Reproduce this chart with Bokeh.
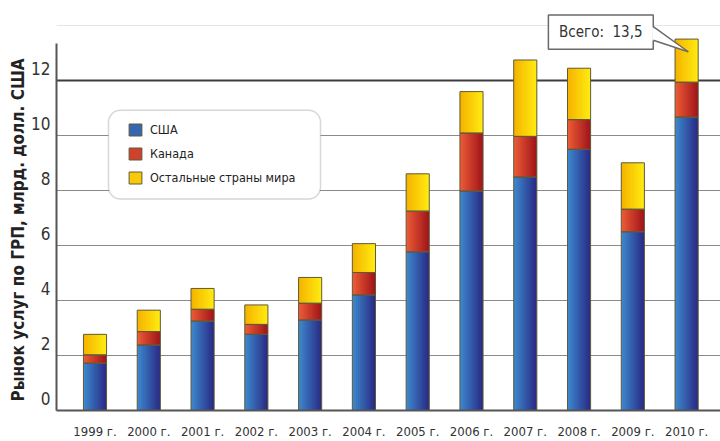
from bokeh.plotting import figure
from bokeh.models import (ColumnDataSource, Range1d, LinearAxis, FixedTicker, Grid, Span,
                          Legend, LegendItem, BoxAnnotation, Title)
from bokeh.transform import dodge
from bokeh.embed import file_html
from bokeh.resources import INLINE
from bokeh.core.properties import value

# ---------------- data ----------------
years = ["1999 г.", "2000 г.", "2001 г.", "2002 г.", "2003 г.", "2004 г.",
         "2005 г.", "2006 г.", "2007 г.", "2008 г.", "2009 г.", "2010 г."]
usa = [1.72, 2.38, 3.25, 2.77, 3.29, 4.20, 5.77, 7.98, 8.49, 9.50, 6.50, 10.67]
canada = [0.30, 0.49, 0.43, 0.36, 0.61, 0.82, 1.48, 2.11, 1.48, 1.08, 0.82, 1.27]
rest = [0.75, 0.78, 0.76, 0.71, 0.94, 1.05, 1.36, 1.51, 2.78, 1.87, 1.69, 1.57]
series_names = ["США", "Канада", "Остальные страны мира"]
y_ticks = [0, 2, 4, 6, 8, 10, 12]
y_label = "Рынок услуг по ГРП, млрд. долл. США"

FONT = "DejaVu Sans Condensed"

# ---------------- layout constants ----------------
W, H = 720, 441
ML, MR, MT, MB = 56, 0, 10, 30
X0, X1 = -0.716, 11.63
Y0, Y1 = 0.0, 14.55
FW, FH = W - ML - MR, H - MT - MB
PXX = FW / (X1 - X0)
PXY = FH / (Y1 - Y0)
D = 12 / PXY  # label shift

def px2x(px):  # page px -> data x
    return X0 + (px - ML) / PXX

def py2y(py):  # page px -> data y
    return Y0 + (MT + FH - py) / PXY

idx = list(range(len(years)))
src = ColumnDataSource(dict(x=idx, usa=usa, canada=canada, rest=rest))

p = figure(width=W, height=H, x_range=Range1d(X0, X1), y_range=Range1d(Y0, Y1),
           output_backend="svg", toolbar_location=None, y_axis_location=None,
           min_border_left=ML, min_border_right=MR, min_border_top=MT, min_border_bottom=MB)
p.outline_line_color = None
p.xgrid.visible = False
p.background_fill_color = "white"

# grid
p.add_layout(Grid(dimension=1, ticker=FixedTicker(ticks=[t for t in y_ticks if 0 < t < 12]),
                  grid_line_color="#8a8a8a", grid_line_width=1.2))
p.add_layout(Span(location=12, dimension="width", line_color="#3c3c3c", line_width=2, level="underlay"))

# y axis (labels shifted up, as in the original)
p.extra_y_ranges = {"lbl": Range1d(Y0 - D, Y1 - D)}
yax = LinearAxis(y_range_name="lbl", ticker=FixedTicker(ticks=y_ticks), bounds=(-D - 0.1, 13.35 - D),
                 axis_line_color="#555555", axis_line_width=2,
                 major_tick_line_color=None, minor_tick_line_color=None,
                 major_tick_out=0, major_tick_in=0,
                 major_label_text_font=FONT, major_label_text_font_size="17px",
                 major_label_text_color="#333333", major_label_standoff=6)
p.add_layout(yax, "left")
p.add_layout(Title(text=y_label, align="left", offset=9, text_font=FONT, text_font_size="17px",
                   text_font_style="bold", text_color="#222222", standoff=2), "left")

# x axis
xa = p.xaxis[0]
xa.ticker = FixedTicker(ticks=idx)
xa.major_label_overrides = {i: years[i] for i in idx}
xa.axis_line_color = "#555555"
xa.axis_line_width = 2
xa.major_tick_line_color = None
xa.minor_tick_line_color = None
xa.major_tick_out = 0
xa.major_tick_in = 0
xa.major_label_text_font = FONT
xa.major_label_text_font_size = "13px"
xa.major_label_text_color = "#333333"
xa.major_label_standoff = 13

# bars with horizontal gradient (thin overlapping slices)
BAR_W = 0.43
NS = 12
SW = BAR_W / NS
left_cols = [(0x3c, 0x86, 0xcc), (0xea, 0x5a, 0x36), (0xf5, 0xb4, 0x00)]
right_cols = [(0x2a, 0x2c, 0x86), (0xa2, 0x16, 0x1a), (0xff, 0xea, 0x10)]

def lerp(a, b, t):
    return "#%02x%02x%02x" % tuple(int(round(a[i] + (b[i] - a[i]) * t)) for i in range(3))

stackers = ["usa", "canada", "rest"]
mid = None
for k in range(NS):
    t = k / (NS - 1)
    w = SW * 1.6 if k < NS - 1 else SW
    off = -BAR_W / 2 + k * SW + w / 2
    cols = [lerp(left_cols[s], right_cols[s], t) for s in range(3)]
    rs = p.vbar_stack(stackers, x=dodge("x", off), width=w,
                      fill_color=cols, line_color=None, source=src)
    if k == NS // 3:
        mid = rs
outline = p.vbar_stack(stackers, x="x", width=BAR_W, fill_alpha=0,
                       line_color="#5f5a3a", line_width=1, source=src)

# legend box
p.add_layout(BoxAnnotation(left=px2x(108), right=px2x(320), top=py2y(110), bottom=py2y(199),
                           fill_color="white", fill_alpha=1, line_color="#7a7a7a", line_width=1.5,
                           border_radius=12))
items = [LegendItem(label=series_names[i], renderers=[mid[i], outline[i]]) for i in range(3)]
leg = Legend(items=items, location=(71, 225), padding=0, margin=0,
             background_fill_alpha=0, border_line_color=None,
             glyph_width=16, glyph_height=15, spacing=9, label_standoff=7,
             label_text_font=FONT, label_text_font_size="12.5px", label_text_color="#222222",
             label_height=15)
p.add_layout(leg, "center")

# callout with total
last = len(years) - 1
total = usa[last] + canada[last] + rest[last]
total_text = "Всего:\u00a0\u00a0" + ("%.1f" % total).replace(".", ",")
bl, br = last - 2.57, last - 0.62
bt, bb = total + 0.88, total - 0.37
tip_x, tip_y = last + 0.03, total - 0.46
pt, pb = total + 0.45, total - 0.04
p.quad(left=[bl], right=[br], top=[bt], bottom=[bb], fill_color="white",
       line_color="#6a6a6a", line_width=1.5)
p.patch(x=[br - 0.02, tip_x, br - 0.02], y=[pt, tip_y, pb], fill_color="white", line_color=None)
p.multi_line(xs=[[br, tip_x], [br, tip_x]], ys=[[pt, tip_y], [pb, tip_y]],
             line_color="#6a6a6a", line_width=1.5)
p.text(x=[(bl + br) / 2], y=[(bt + bb) / 2], text=[total_text], text_align="center",
       text_baseline="middle", text_font=value(FONT), text_font_size="15px", text_color="#333333")

open("out.html", "w").write(file_html(p, INLINE))
